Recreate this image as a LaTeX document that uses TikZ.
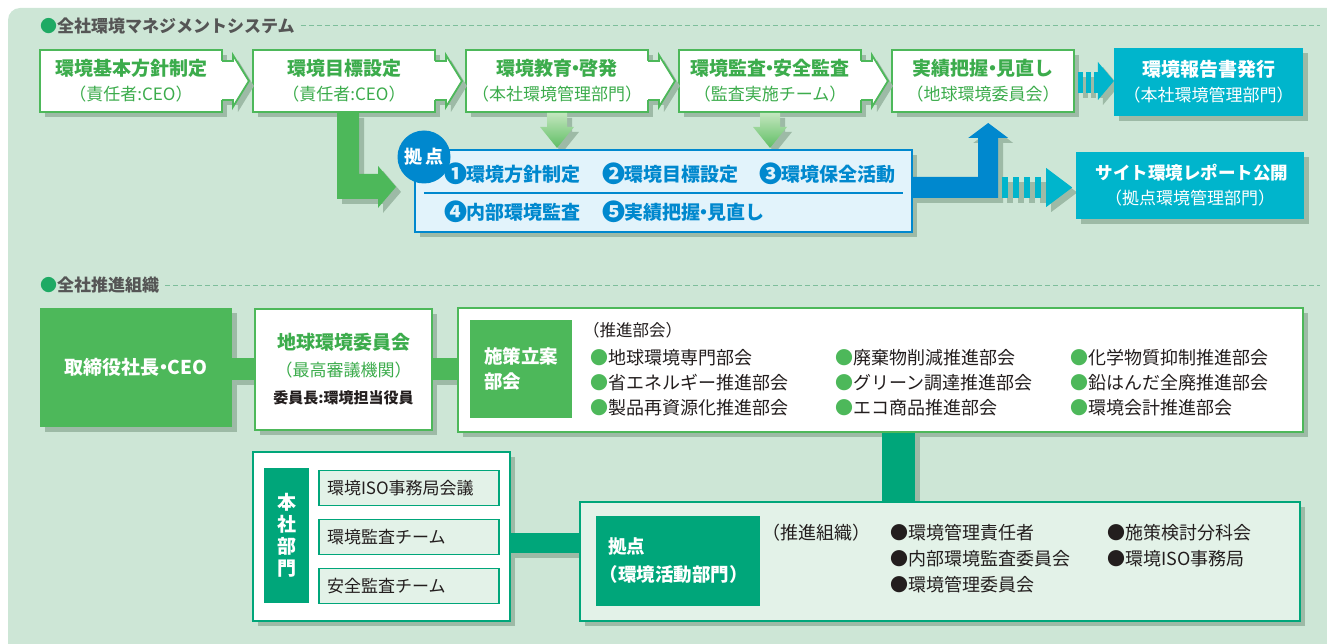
\documentclass[tikz,border=0pt]{standalone}
\usepackage{fontspec}
\setmainfont{Noto Sans CJK JP}
\usetikzlibrary{calc,shadows}
\definecolor{panelc}{RGB}{205,230,214}
\definecolor{grnA}{RGB}{77,184,90}
\definecolor{grnT}{RGB}{60,172,76}
\definecolor{tealc}{RGB}{0,166,122}
\definecolor{cyanc}{RGB}{0,181,204}
\definecolor{bluec}{RGB}{0,136,206}
\definecolor{lbluec}{RGB}{226,243,251}
\definecolor{lgrnc}{RGB}{227,242,232}
\definecolor{shadowc}{RGB}{157,186,166}
\definecolor{dotc}{RGB}{30,170,100}
\definecolor{hdrc}{RGB}{85,85,85}
\definecolor{dashc}{RGB}{125,190,155}
\definecolor{txtc}{RGB}{35,30,30}
\definecolor{arrT}{RGB}{195,230,190}
\definecolor{arrB}{RGB}{95,190,100}
\newcommand\fsz[2]{\fontsize{#1}{#2}\selectfont}
\newcommand\nd{\kern-0.3em・\kern-0.3em}

\begin{document}
\begin{tikzpicture}[x=1pt,y=-1pt,
boxshadow/.style={
  drop shadow={shadow xshift=5pt,shadow yshift=-5pt,fill=shadowc,opacity=1}
  },
sysbox/.style={
  draw=grnA, line width=1.8pt, fill=white, boxshadow,
  minimum width=182pt, minimum height=62pt, inner sep=0pt,
  align=center, text=grnT, font=\fsz{19}{25}
  },
cyanbox/.style={
  fill=cyanc, boxshadow, inner sep=0pt,
  align=center, text=white, font=\fsz{19}{25}
  },
hdr/.style={
  text=hdrc, font=\bfseries\fsz{17}{18}, inner sep=0pt
  },
dashline/.style={
  dashc, line width=1pt, dash pattern=on 5pt off 3pt
  },
kyotxt/.style={
  text=bluec, font=\bfseries\fsz{19}{20}, inner sep=0pt
  },
whitebox/.style={
  draw=grnA, line width=1.8pt, fill=white, boxshadow
  },
label/.style={
  inner sep=0pt, text=white, font=\bfseries\fsz{18.5}{25}
  },
listtxt/.style={
  text=txtc, font=\fsz{18}{20}, inner sep=0pt, anchor=west
  },
itembox/.style={
  draw=tealc, line width=1.8pt, fill=lgrnc,
  text width=164pt, inner xsep=8pt, minimum height=35pt,
  align=left, text=txtc, font=\fsz{17}{20}
  },
grnbar/.style={
  grnA, line width=22pt,
  preaction={draw=shadowc, line width=22pt, transform canvas={yshift=-5pt}}
  },
tealbar/.style={
  tealc, line width=#1,
  preaction={draw=shadowc, line width=#1, transform canvas={yshift=-5pt}}
  },
tealvbar/.style={
  tealc, line width=#1,
  preaction={draw=shadowc, line width=#1, transform canvas={xshift=5pt}}
  }
]
\useasboundingbox (0,0) rectangle (1327,644);
\fill[panelc, rounded corners=12pt] (8,8) rectangle (1360,680);

% management system
\node[hdr, anchor=west] (hdr1) at (40,26) {{\color{dotc}●}全社環境マネジメントシステム};
\draw[dashline] ($(hdr1.east)+(6,0)$) -- (hdr1.east -| 1320,0);

\foreach \ti/\st [count=\i] in {環境基本方針制定/（責任者:CEO）, 環境目標設定/（責任者:CEO）, 環境教育\nd 啓発/（本社環境管理部門）, 環境監査\nd 安全監査/（監査実施チーム）, 実績把握\nd 見直し/（地球環境委員会）}
  \node[sysbox] (sys\i) at ({131+213*(\i-1)},81) {{\bfseries\ti}\\{\fsz{17}{25}\st}};

\foreach \b in {sys1,sys2,sys3,sys4}
{
  \fill[white, boxshadow] ($(\b.east)+(-2,-20)$) -- ++(12,0) -- ++(0,-6) -- ++(16,26) -- ++(-16,26) -- ++(0,-7) -- ++(-12,0) -- cycle;
  \draw[grnA, line width=1.8pt] ($(\b.east)+(-0.9,-20)$) -- ++(10.9,0) -- ++(0,-6) -- ++(16,26) -- ++(-16,26) -- ++(0,-7) -- ++(-10.9,0);
}

\foreach \b in {sys3,sys4}
  \path[top color=arrT, bottom color=arrB, boxshadow] ($(\b.south)+(-10,0)$) -- ++(20,0) -- ++(0,14) -- ++(7,0) -- ++(-17,21) -- ++(-17,-21) -- ++(7,0) -- cycle;

% dashed arrow to report
\foreach \k in {0,1,2}
  \fill[cyanc, boxshadow] ($(sys5.east)+(3+8*\k,-9)$) rectangle ++(5,21);
\fill[cyanc, boxshadow] ($(sys5.east)+(23,-19)$) -- ++(0,38) -- ++(16,-19) -- cycle;
\node[cyanbox, minimum width=189pt, minimum height=68pt] (report) at (1208.5,82) {{\bfseries 環境報告書発行}\\{\fsz{17}{25}（本社環境管理部門）}};

% sites
\node[draw=bluec, line width=2.4pt, fill=lbluec, boxshadow, minimum width=497pt, minimum height=82pt] (kyoten) at (663.5,191) {};
\node[circle, fill=bluec, minimum size=53pt, inner sep=0pt, text=white, font=\bfseries\fsz{18}{18}] (kyomark) at (424,157) {拠\hspace{3pt}点};
\draw[bluec, line width=1.5pt] ($(kyoten.west)+(10,2)$) -- ($(kyoten.east)+(-10,2)$);
\foreach \n/\t/\x/\y [count=\i] in {❶/環境方針制定/444/174, ❷/環境目標設定/602/174, ❸/環境保全活動/759/174, ❹/内部環境監査/444/212, ❺/実績把握\nd 見直し/602/212}
  \node[kyotxt, anchor=west] (kyo\i) at (\x,\y) {{\fsz{23}{20}\raisebox{-1pt}{\n}}\kern-1pt\t};

\fill[grnA, boxshadow] ($(sys2.south)+(-7,0)$) -- ++(22,0) -- ++(0,61) -- ++(19,0) -- ++(0,-8) -- ++(18,21) -- ++(-18,21) -- ++(0,-9) -- ++(-41,0) -- cycle;
\fill[bluec, boxshadow] ($(kyoten.east)+(-1,-14)$) -- ++(66,0) -- ++(0,-39) -- ++(-10,0) -- ++(20,-15) -- ++(20,15) -- ++(-10,0) -- ++(0,60) -- ++(-86,0) -- cycle;
\foreach \k in {0,...,3}
  \fill[cyanc, boxshadow] ($(kyoten.east)+(89+11*\k,-14)$) rectangle ++(6,21);
\fill[cyanc, boxshadow] ($(kyoten.east)+(133,-23)$) -- ++(0,39) -- ++(26,-19.5) -- cycle;
\node[cyanbox, minimum width=228pt, minimum height=67pt] (site) at (1190,185.5) {{\bfseries\fsz{17.5}{25} サイト環境レポート公開}\\{\fsz{17}{25}（拠点環境管理部門）}};

% organisation
\node[hdr, anchor=west] (hdr2) at (40,285) {{\color{dotc}●}全社推進組織};
\draw[dashline] ($(hdr2.east)+(6,0)$) -- (hdr2.east -| 1320,0);

\node[fill=grnA, boxshadow, minimum width=192pt, minimum height=119pt, text=white, font=\bfseries\fsz{19}{20}] (ceo) at (136,367.5) {取締役社長\nd CEO};
\node[whitebox, minimum width=177pt, minimum height=121pt, align=center, text=grnT, font=\fsz{19}{27}] (council) at (343.5,369.5)
  {{\bfseries 地球環境委員会}\\{\fsz{17}{27}（最高審議機関）}\\{\color{txtc}\bfseries\fsz{15}{27}委員長:環境担当役員}};
\node[whitebox, minimum width=845pt, minimum height=124pt] (plan) at (880.5,370) {};
\node[label, fill=grnA, minimum width=102pt, minimum height=98pt, align=left] (planlab) at (521,369) {施策立案\\部会};
\node[listtxt, font=\fsz{16.5}{20}] (plantop) at (583,330) {（推進部会）};
\foreach \t/\x/\y [count=\i] in {地球環境専門部会/590/358, 省エネルギー推進部会/590/383, 製品再資源化推進部会/590/408,
  廃棄物削減推進部会/835/358, グリーン調達推進部会/835/383, エコ商品推進部会/835/408,
  化学物質抑制推進部会/1070/358, 鉛はんだ全廃推進部会/1070/383, 環境会計推進部会/1070/408}
  \node[listtxt] (pl\i) at (\x,\y) {{\color{grnA}●}\t};

\draw[grnbar] (ceo.east |- 0,369) -- (council.west |- 0,369);
\draw[grnbar] (council.east |- 0,369) -- (plan.west |- 0,369);

\node[draw=tealc, line width=1.8pt, fill=white, boxshadow, minimum width=257pt, minimum height=169pt] (honsha) at (381.5,536.5) {};
\node[label, fill=tealc, minimum width=45pt, minimum height=135pt, align=center, font=\bfseries\fsz{19}{22}] (honlab) at (286.5,535.5) {本\\社\\部\\門};
\foreach \t [count=\i] in {環境ISO事務局会議, 環境監査チーム, 安全監査チーム}
  \node[itembox] (hq\i) at (409,{439+49*\i}) {\t};

\node[draw=tealc, line width=2.2pt, fill=lgrnc, boxshadow, minimum width=720pt, minimum height=119pt] (kyoten2) at (940,561.5) {};
\node[label, fill=tealc, minimum width=164pt, minimum height=90pt, align=left, font=\bfseries\fsz{18.5}{28}] (kyolab) at (678,561) {拠点\\\kern-0.45em（環境活動部門）};
\node[listtxt] (orgtop) at (762,533) {（推進組織）};
\foreach \t/\x/\y [count=\i] in {環境管理責任者/890/533, 内部環境監査委員会/890/559, 環境管理委員会/890/585, 施策検討分科会/1107/533, 環境ISO事務局/1107/559}
  \node[listtxt] (org\i) at (\x,\y) {●\t};

\draw[tealbar=20pt] (honsha.east |- 0,543) -- (kyoten2.west |- 0,543);
\draw[tealvbar=33pt] (898,0 |- plan.south) -- (898,0 |- kyoten2.north);
\end{tikzpicture}
\end{document}
